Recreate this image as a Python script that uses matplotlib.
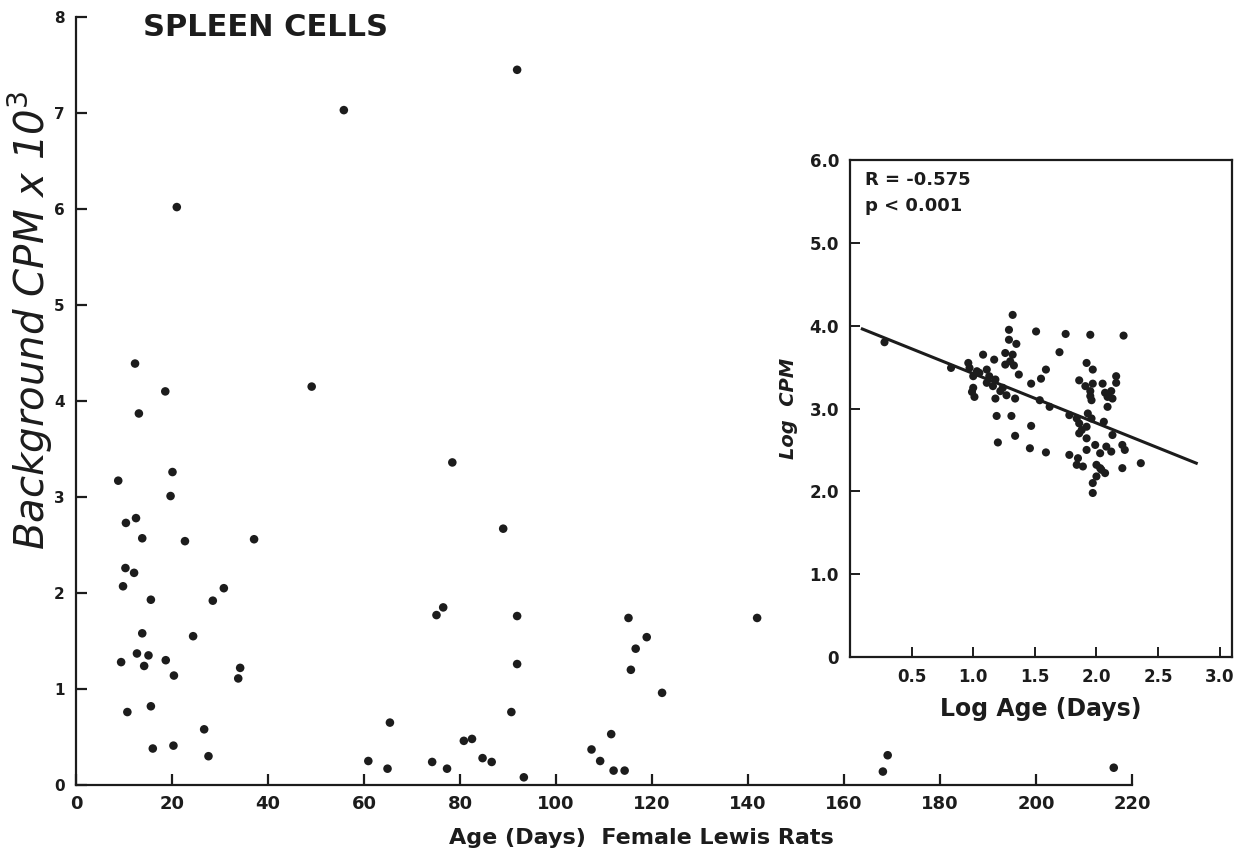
import matplotlib
matplotlib.use("Agg")
import matplotlib.pyplot as plt

plt.rcParams['font.family'] = ['DejaVu Sans']
INK = '#1c1c1c'

# ---- main panel data: age (days) vs background CPM x 10^3 ----
age_days = [12.3, 18.6, 13.1, 8.8, 20.1, 19.7, 10.4, 12.5, 13.8, 22.7, 37.1,
            10.3, 12.1, 9.8, 30.8, 15.6, 28.5, 13.8, 24.4, 12.7, 15.1, 9.4,
            18.7, 14.2, 20.4, 34.2, 33.8, 10.7, 15.6, 26.7, 16.0, 20.3, 27.6,
            21.0, 49.1, 55.8, 91.9, 78.4, 89.0, 75.1, 76.5, 91.9, 115.1, 118.9,
            116.6, 115.6, 91.9, 90.7, 65.4, 80.8, 82.5, 111.5, 60.9, 64.9, 74.2,
            77.3, 84.7, 86.6, 93.3, 107.4, 109.2, 112.0, 114.3, 122.1, 141.9,
            169.1, 168.1, 216.2]
cpm_k = [4.39, 4.10, 3.87, 3.17, 3.26, 3.01, 2.73, 2.78, 2.57, 2.54, 2.56,
         2.26, 2.21, 2.07, 2.05, 1.93, 1.92, 1.58, 1.55, 1.37, 1.35, 1.28,
         1.30, 1.24, 1.14, 1.22, 1.11, 0.76, 0.82, 0.58, 0.38, 0.41, 0.30,
         6.02, 4.15, 7.03, 7.45, 3.36, 2.67, 1.77, 1.85, 1.76, 1.74, 1.54,
         1.42, 1.20, 1.26, 0.76, 0.65, 0.46, 0.48, 0.53, 0.25, 0.17, 0.24,
         0.17, 0.28, 0.24, 0.08, 0.37, 0.25, 0.15, 0.15, 0.96, 1.74,
         0.31, 0.14, 0.18]
x_ticks = [0, 20, 40, 60, 80, 100, 120, 140, 160, 180, 200, 220]
y_ticks = [0, 1, 2, 3, 4, 5, 6, 7, 8]

# ---- inset data: log age vs log CPM ----
log_age = [1.32, 1.29, 1.51, 1.75, 1.95, 2.22, 0.28, 1.29, 1.35, 1.70, 1.08,
           1.17, 1.26, 1.32, 1.30, 1.26, 1.33, 0.82, 0.96, 1.37, 1.59, 1.55,
           1.47, 0.97, 1.03, 1.00, 1.05, 1.11, 1.13, 1.18, 1.11, 1.16, 1.00,
           1.01, 1.18, 1.22, 1.24, 1.27, 1.34, 0.99, 1.54, 1.62, 1.19, 1.31,
           1.47, 1.20, 1.34, 1.46, 1.59, 1.92, 1.97, 1.86, 1.91, 1.97, 1.95,
           1.96, 1.95, 2.05, 2.16, 2.16, 2.12, 2.09, 2.13, 2.09, 2.07, 1.78,
           1.84, 1.86, 1.93, 1.96, 1.92, 1.88, 1.86, 1.92, 2.06, 2.13, 1.92,
           1.99, 2.03, 2.08, 2.12, 1.78, 1.85, 1.84, 1.89, 2.00, 2.04, 2.07,
           2.00, 1.97, 2.03, 2.21, 2.23, 2.21, 2.36, 1.97]
log_cpm = [4.13, 3.95, 3.93, 3.90, 3.89, 3.88, 3.80, 3.83, 3.78, 3.68, 3.65,
           3.59, 3.67, 3.65, 3.57, 3.53, 3.52, 3.49, 3.55, 3.41, 3.47, 3.36,
           3.30, 3.49, 3.45, 3.39, 3.43, 3.47, 3.39, 3.35, 3.31, 3.27, 3.25,
           3.14, 3.12, 3.21, 3.25, 3.16, 3.12, 3.20, 3.10, 3.02, 2.91, 2.91,
           2.79, 2.59, 2.67, 2.52, 2.47, 3.55, 3.47, 3.34, 3.27, 3.30, 3.21,
           3.10, 3.15, 3.30, 3.39, 3.31, 3.21, 3.14, 3.12, 3.02, 3.19, 2.92,
           2.88, 2.82, 2.94, 2.88, 2.78, 2.74, 2.70, 2.64, 2.84, 2.68, 2.50,
           2.56, 2.46, 2.54, 2.48, 2.44, 2.40, 2.32, 2.30, 2.32, 2.26, 2.22,
           2.18, 2.10, 2.28, 2.56, 2.50, 2.28, 2.34, 1.98]
fit_x = [0.10, 2.81]
fit_y = [3.96, 2.34]
inset_xticks = [0.5, 1.0, 1.5, 2.0, 2.5, 3.0]
inset_xlabels = ['0.5', '1.0', '1.5', '2.0', '2.5', '3.0']
inset_yticks = [0, 1, 2, 3, 4, 5, 6]
inset_ylabels = ['0', '1.0', '2.0', '3.0', '4.0', '5.0', '6.0']

W, H = 1246, 861
fig = plt.figure(figsize=(W / 100, H / 100), dpi=100)
fig.patch.set_facecolor('white')

# ---------------- main axes ----------------
ax = fig.add_axes([76 / W, 76 / H, (1132 - 76) / W, (785 - 17) / H])
ax.scatter(age_days, cpm_k, s=38, color=INK, edgecolors='none', clip_on=False, zorder=3)
ax.set_xlim(0, 220)
ax.set_ylim(0, 8)
for side in ['top', 'right']:
    ax.spines[side].set_visible(False)
for side in ['left', 'bottom']:
    ax.spines[side].set_linewidth(1.6)
    ax.spines[side].set_color(INK)
ax.set_xticks(x_ticks)
ax.set_yticks(y_ticks)
ax.set_xticklabels([str(v) for v in x_ticks])
ax.set_yticklabels([str(v) for v in y_ticks])
ax.tick_params(axis='both', direction='in', length=8, width=1.6, color=INK)
ax.tick_params(axis='x', labelsize=13, pad=7)
ax.tick_params(axis='y', labelsize=11, pad=8)
for lab in ax.get_xticklabels() + ax.get_yticklabels():
    lab.set_fontweight('bold')
    lab.set_color(INK)

fig.text(143 / W, 1 - 27 / H, 'SPLEEN CELLS', fontsize=22, fontweight='bold',
         color=INK, ha='left', va='center')
fig.text(30 / W, 1 - 320 / H, r'Background CPM x 10$^{3}$', fontsize=29,
         fontstyle='oblique', color=INK, rotation=90, ha='center', va='center')
fig.text(641 / W, 1 - 838 / H, 'Age (Days)  Female Lewis Rats', fontsize=16,
         fontweight='bold', color=INK, ha='center', va='center')

# ---------------- inset ----------------
ax2 = fig.add_axes([850 / W, (H - 657) / H, (1232 - 850) / W, (657 - 160) / H])
ax2.set_facecolor('white')
ax2.scatter(log_age, log_cpm, s=34, color=INK, edgecolors='none', zorder=3)
ax2.plot(fit_x, fit_y, color=INK, lw=2.2, zorder=2)
ax2.set_xlim(0, 3.1)
ax2.set_ylim(0, 6.0)
for side in ax2.spines:
    ax2.spines[side].set_linewidth(1.6)
    ax2.spines[side].set_color(INK)
ax2.set_xticks(inset_xticks)
ax2.set_xticklabels(inset_xlabels)
ax2.set_yticks(inset_yticks)
ax2.set_yticklabels(inset_ylabels)
ax2.tick_params(axis='both', direction='in', length=7, width=1.4, color=INK,
                labelsize=12, pad=8)
for lab in ax2.get_xticklabels() + ax2.get_yticklabels():
    lab.set_fontweight('bold')
    lab.set_color(INK)
ax2.text(0.04, 0.978, 'R = -0.575', transform=ax2.transAxes, fontsize=13,
         fontweight='bold', color=INK, ha='left', va='top')
ax2.text(0.04, 0.925, 'p < 0.001', transform=ax2.transAxes, fontsize=13,
         fontweight='bold', color=INK, ha='left', va='top')
ax2.set_xlabel('Log Age (Days)', fontsize=17, fontweight='bold', color=INK, labelpad=8)
ax2.set_ylabel('Log  CPM', fontsize=14, fontweight='bold', fontstyle='oblique',
               color=INK, labelpad=8)

fig.savefig('out.png', dpi=100, facecolor='white')
